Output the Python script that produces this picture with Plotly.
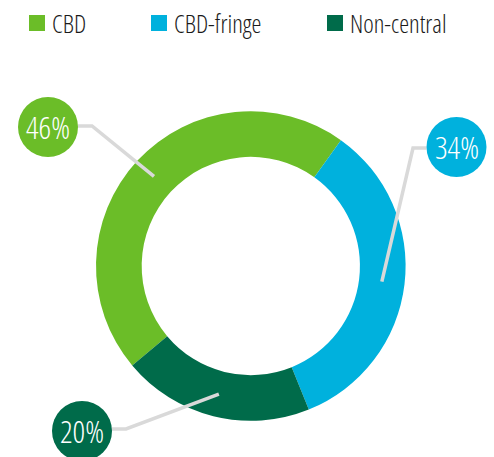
import math
import plotly.graph_objects as go

# ---- data ----
categories = ["CBD", "CBD-fringe", "Non-central"]
shares = [46, 34, 20]
colors = ["#6BBD28", "#00B1DD", "#006B4A"]

# ---- layout constants (pixels) ----
W, H = 494, 457
CX, CY = 250.8, 266.0
R_OUT = 154.8
HOLE = 0.705
ROTATION = 230
FONT = "Open Sans, Roboto, sans-serif"

# label bubble centres and elbow points (pixels)
bubble_pos = [(48, 127), (456.5, 147), (82, 431)]
elbow_pos = [(92, 126), (413, 148), (126, 429)]
BUBBLE_R = 30


def px(x):
    return x / W


def py(y):
    return 1 - y / H


def narrow(s):
    return f"<span style='font-stretch:condensed'>{s}</span>"


fig = go.Figure(
    go.Pie(
        labels=categories,
        values=shares,
        hole=HOLE,
        sort=False,
        direction="clockwise",
        rotation=ROTATION,
        marker=dict(colors=colors, line=dict(width=0)),
        textinfo="none",
        hoverinfo="label+percent",
        showlegend=False,
        domain=dict(
            x=[px(CX - R_OUT), px(CX + R_OUT)],
            y=[py(CY + R_OUT), py(CY - R_OUT)],
        ),
    )
)

shapes = []
annotations = []

# leader lines: end point at slice mid-angle on the ring centre
total = sum(shares)
r_mid = R_OUT * (1 + HOLE) / 2
cum = 0
for i, v in enumerate(shares):
    mid = ROTATION + (cum + v / 2) / total * 360
    cum += v
    a = math.radians(mid)
    ex, ey = CX + r_mid * math.sin(a), CY - r_mid * math.cos(a)
    bx, by = bubble_pos[i]
    lx, ly = elbow_pos[i]
    sx = bx + BUBBLE_R if lx > bx else bx - BUBBLE_R
    shapes.append(
        dict(
            type="path",
            xref="paper",
            yref="paper",
            path=f"M {px(sx)},{py(ly)} L {px(lx)},{py(ly)} L {px(ex)},{py(ey)}",
            line=dict(color="#D9D9D9", width=3.5),
        )
    )
for i, v in enumerate(shares):
    bx, by = bubble_pos[i]
    shapes.append(
        dict(
            type="circle",
            xref="paper",
            yref="paper",
            x0=px(bx - BUBBLE_R),
            x1=px(bx + BUBBLE_R),
            y0=py(by + BUBBLE_R),
            y1=py(by - BUBBLE_R),
            fillcolor=colors[i],
            line=dict(width=0),
        )
    )
    annotations.append(
        dict(
            x=px(bx),
            y=py(by),
            xref="paper",
            yref="paper",
            text=narrow(f"{v}%"),
            showarrow=False,
            xanchor="center",
            yanchor="middle",
            font=dict(family=FONT, size=31, weight=300, color="white"),
        )
    )

# custom legend
legend_x = [29, 151, 327]
LEG_Y = 23
SQ = 16
for i, name in enumerate(categories):
    x0 = legend_x[i]
    shapes.append(
        dict(
            type="rect",
            xref="paper",
            yref="paper",
            x0=px(x0),
            x1=px(x0 + SQ),
            y0=py(LEG_Y + SQ / 2),
            y1=py(LEG_Y - SQ / 2),
            fillcolor=colors[i],
            line=dict(width=0),
        )
    )
    annotations.append(
        dict(
            x=px(x0 + SQ + 5),
            y=py(LEG_Y),
            xref="paper",
            yref="paper",
            text=narrow(name),
            showarrow=False,
            xanchor="left",
            yanchor="middle",
            font=dict(family=FONT, size=25, weight=350, color="#1A1A1A"),
        )
    )

fig.update_layout(
    width=W,
    height=H,
    margin=dict(l=0, r=0, t=0, b=0),
    paper_bgcolor="white",
    plot_bgcolor="white",
    showlegend=False,
    shapes=shapes,
    annotations=annotations,
)

fig.write_html("out.html")
